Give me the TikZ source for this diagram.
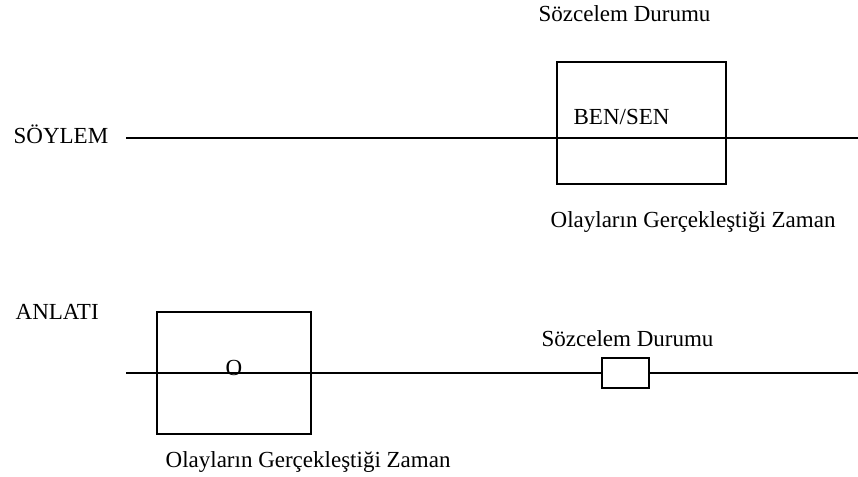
\documentclass[tikz,border=0pt]{standalone}
\usepackage{fontspec}
\setmainfont{Liberation Serif}
\usetikzlibrary{positioning}

\begin{document}
\begin{tikzpicture}[x=0.5pt,y=-0.5pt,line width=0.65pt,
        label text/.style={anchor=base west,inner sep=0pt,font=\fontsize{11.5}{14}\selectfont},
        frame/.style={draw,inner sep=0pt}]
        \useasboundingbox (0,0) rectangle (858,477);
        %Discourse line
            \coordinate (soy start) at (126,138);
            \coordinate (soy end) at (858,138);
            \draw (soy start) -- (soy end);
            \node[label text] (soylem) at (13,143) {SÖYLEM};
        %Discourse box
            \node[frame,minimum width=84.5pt,minimum height=61pt] (soy box) at (641.5,123) {};
            \node[label text] (bensen) at (573,124) {BEN/SEN};
            \node[label text] (soy sozcelem) at (538,21) {Sözcelem Durumu};
            \node[label text] (soy olay) at (550,227) {Olayların Gerçekleştiği Zaman};
        %Narrative line
            \coordinate (anl start) at (126,373);
            \coordinate (anl end) at (858,373);
            \node[label text] (anlati) at (15,319) {ANLATI};
            \node[frame,fill=white,minimum width=23.5pt,minimum height=15pt] (anl small) at (625.5,373) {};
            \draw (anl start) -- (anl small.west);
            \draw (anl small.east) -- (anl end);
        %Narrative box
            \node[frame,minimum width=77pt,minimum height=61pt] (anl box) at (234,373) {};
            \node[label text,anchor=base] (o) at (234,375) {O};
            \node[label text] (anl sozcelem) at (541,346) {Sözcelem Durumu};
            \node[label text] (anl olay) at (165,467) {Olayların Gerçekleştiği Zaman};
    \end{tikzpicture}
\end{document}
